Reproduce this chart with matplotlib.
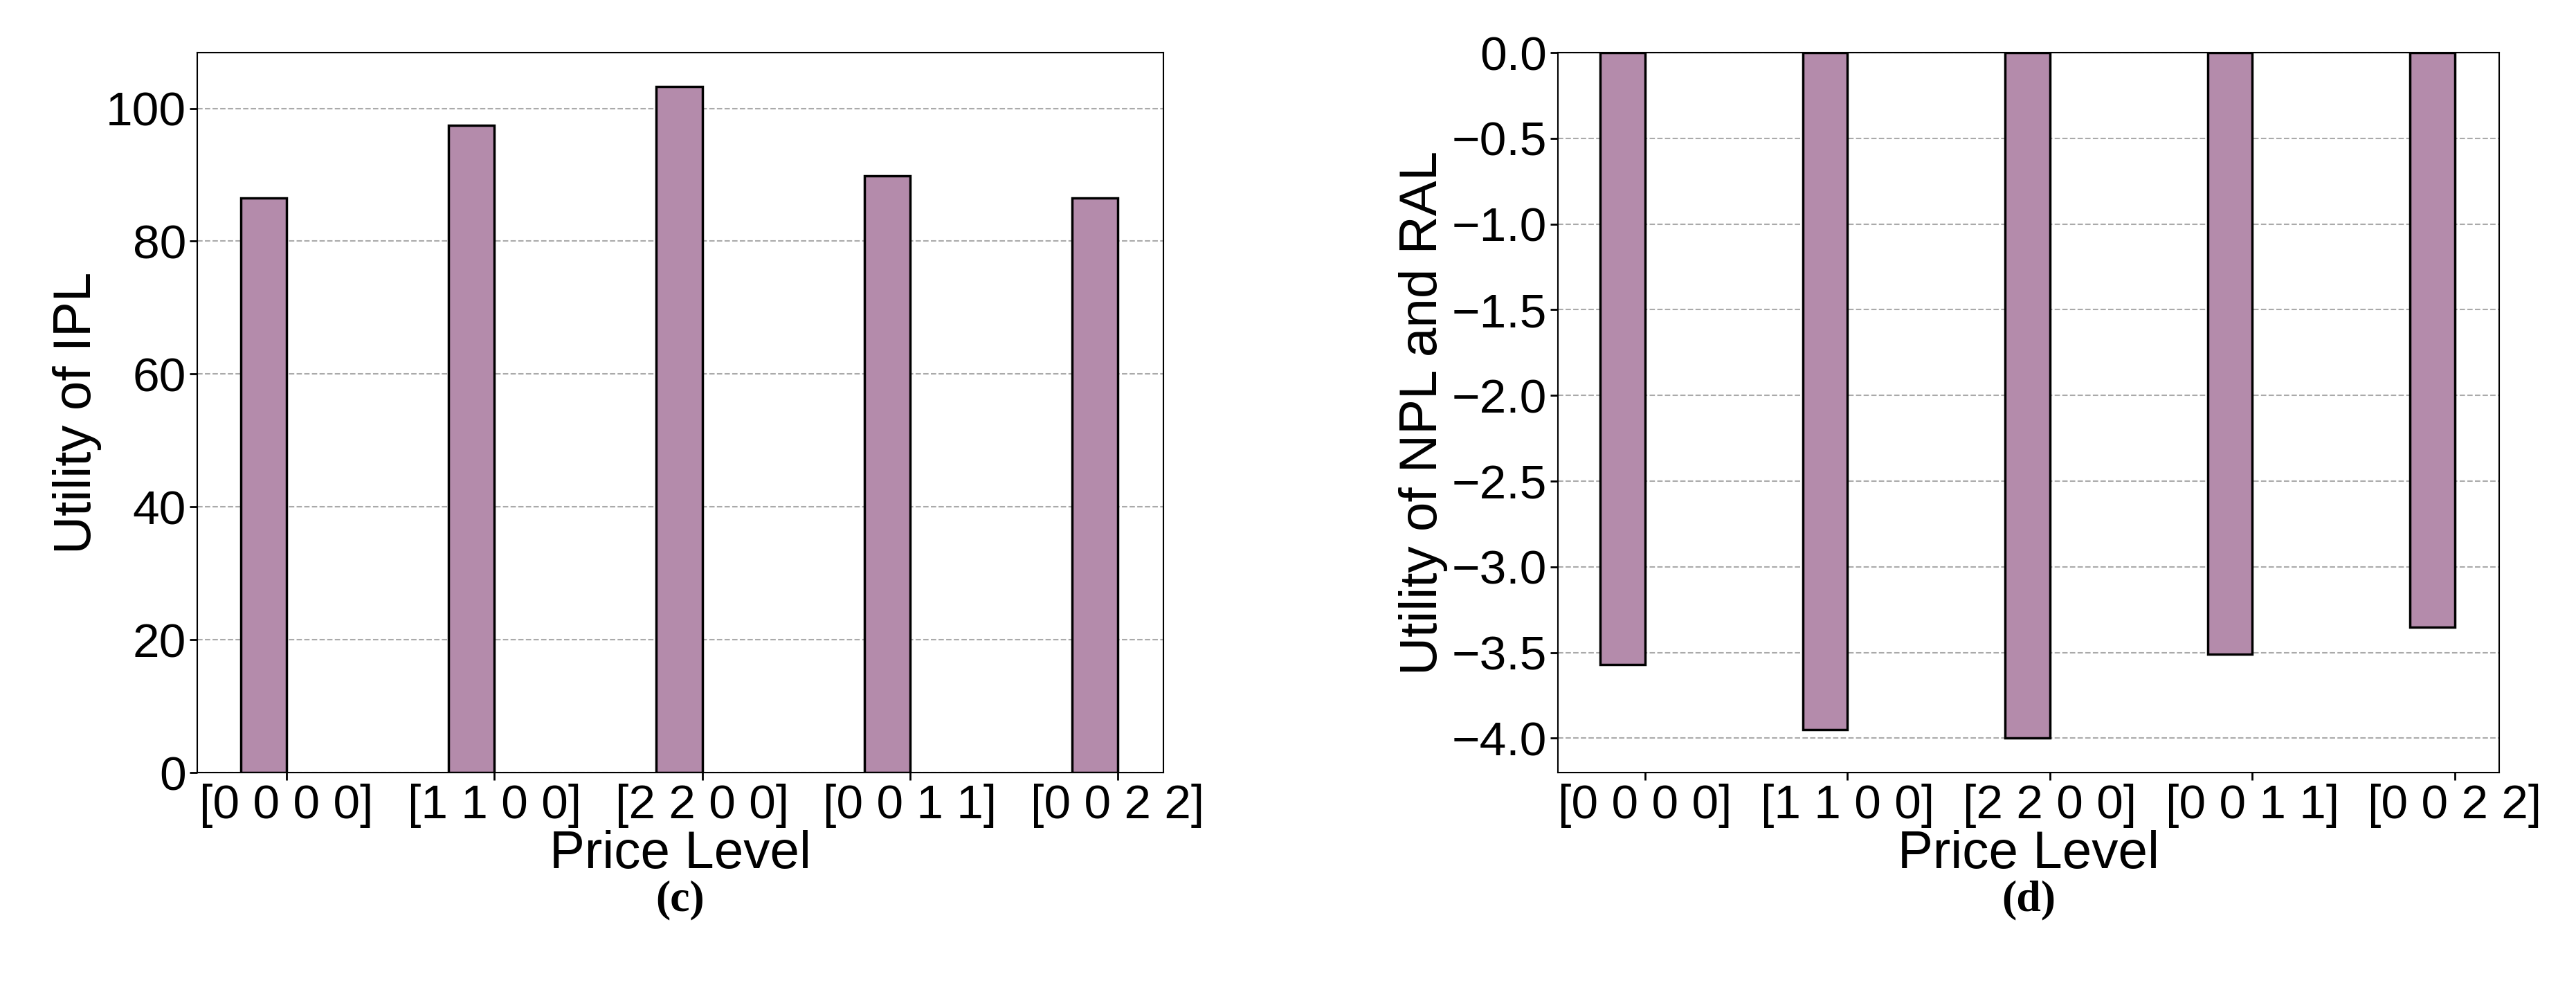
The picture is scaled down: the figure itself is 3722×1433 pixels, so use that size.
import matplotlib
matplotlib.use("Agg")
import matplotlib.pyplot as plt
import numpy as np

plt.rcParams['font.family'] = ['Liberation Sans', 'DejaVu Sans']

labels = ["[0 0 0 0]", "[1 1 0 0]", "[2 2 0 0]", "[0 0 1 1]", "[0 0 2 2]"]
ipl = [86.5, 97.5, 103.3, 89.8, 86.5]
npl_ral = [-3.57, -3.95, -4.0, -3.51, -3.35]
color = "#B48BAB"

fig = plt.figure(figsize=(37.23, 14.33), dpi=100)
ax1 = fig.add_axes([285/3723, 1-1116/1433, (1681-285)/3723, (1116-76)/1433])
ax2 = fig.add_axes([2251/3723, 1-1116/1433, (3611-2251)/3723, (1116-76)/1433])
x = np.arange(len(labels))
w = 0.22
for ax, vals in ((ax1, ipl), (ax2, npl_ral)):
    ax.set_axisbelow(True)
    ax.yaxis.grid(True, linestyle="--", color="#aaaaaa", linewidth=1.5)
    ax.bar(x - w/2, vals, width=w, color=color, edgecolor="black", linewidth=2.5)
    ax.set_xticks(x)
    ax.set_xticklabels(labels)
    ax.set_xlim(-0.43, 4.22)
    ax.tick_params(labelsize=50, width=2, length=8)
    ax.set_xlabel("Price Level", fontsize=55, labelpad=2)
    for s in ax.spines.values():
        s.set_linewidth(1.5)
ax1.set_ylim(0, 108.4)
ax1.set_yticks([0, 20, 40, 60, 80, 100])
ax1.set_ylabel("Utility of IPL", fontsize=55)
ax2.set_ylim(-4.2, 0)
ax2.set_yticks(np.arange(-4.0, 0.01, 0.5))
ax2.set_ylabel("Utility of NPL and RAL", fontsize=55)
fig.text((285+1681)/2/3723, 1-1300/1433, "(c)", ha="center", va="center", fontsize=46, family="Liberation Serif", weight="bold")
fig.text((2251+3611)/2/3723, 1-1300/1433, "(d)", ha="center", va="center", fontsize=46, family="Liberation Serif", weight="bold")
fig.savefig("out.png", dpi=100)
